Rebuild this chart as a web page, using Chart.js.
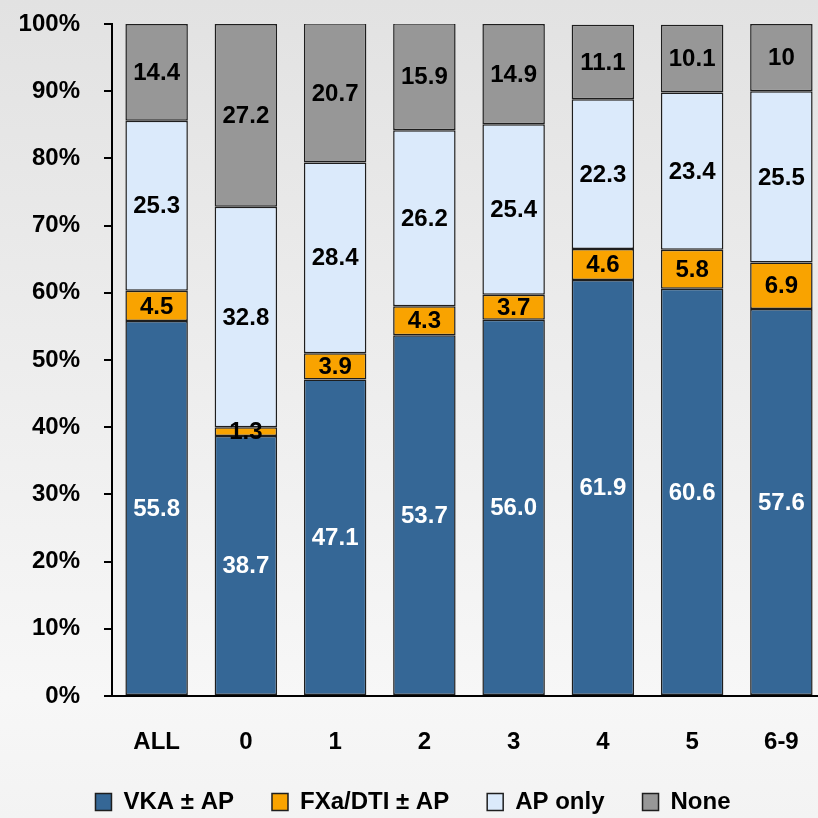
<!DOCTYPE html>
<html>
<head>
<meta charset="utf-8">
<script src="https://cdn.jsdelivr.net/npm/chart.js@4.4.0/dist/chart.umd.min.js"></script>
<style>
  html, body { margin:0; padding:0; width:818px; height:818px; overflow:hidden; background:#ececec; }
  #wrap { position:relative; width:826px; height:818px; }
</style>
</head>
<body>
<div id="wrap"><canvas id="c" width="826" height="818"></canvas></div>
<script>
const categories = ['ALL', '0', '1', '2', '3', '4', '5', '6-9'];
const vkaValues  = [55.8, 38.7, 47.1, 53.7, 56.0, 61.9, 60.6, 57.6];
const fxaValues  = [4.5, 1.3, 3.9, 4.3, 3.7, 4.6, 5.8, 6.9];
const apValues   = [25.3, 32.8, 28.4, 26.2, 25.4, 22.3, 23.4, 25.5];
const noneValues = [14.4, 27.2, 20.7, 15.9, 14.9, 11.1, 10.1, 10];
const seriesNames = ['VKA \u00B1 AP', 'FXa/DTI \u00B1 AP', 'AP only', 'None'];
const yTicks = [0, 10, 20, 30, 40, 50, 60, 70, 80, 90, 100];

const FONT = "'Liberation Sans', Arial, 'DejaVu Sans', sans-serif";

const bgPlugin = {
  id: 'bg',
  beforeDraw(chart) {
    const {ctx, width, height} = chart;
    const g = ctx.createLinearGradient(0, 0, 0, height);
    g.addColorStop(0, '#e2e2e2');
    g.addColorStop(0.85, '#f7f7f7');
    g.addColorStop(1, '#f3f3f3');
    ctx.save();
    ctx.fillStyle = g;
    ctx.fillRect(0, 0, width, height);
    ctx.restore();
  }
};

const labelPlugin = {
  id: 'segLabels',
  afterDatasetsDraw(chart) {
    const ctx = chart.ctx;
    ctx.save();
    ctx.font = "bold 24px " + FONT;
    ctx.textAlign = 'center';
    ctx.textBaseline = 'middle';
    chart.data.datasets.forEach((ds, di) => {
      const meta = chart.getDatasetMeta(di);
      meta.data.forEach((el, i) => {
        const p = el.getProps(['x', 'y', 'base'], true);
        const v = ds.data[i];
        const txt = di === 0 ? v.toFixed(1) : String(v);
        ctx.fillStyle = di === 0 ? '#ffffff' : '#000000';
        ctx.fillText(txt, p.x, (p.y + p.base) / 2 + 1);
      });
    });
    ctx.restore();
  }
};

const mk = (label, data, color) => ({
  label, data, backgroundColor: color, borderColor: '#1e1e1e', borderWidth: 1.5,
  borderSkipped: false, barPercentage: 0.7, categoryPercentage: 1.0
});

new Chart(document.getElementById('c'), {
  type: 'bar',
  data: {
    labels: categories,
    datasets: [
      mk(seriesNames[0], vkaValues, '#356796'),
      mk(seriesNames[1], fxaValues, '#f9a300'),
      mk(seriesNames[2], apValues, '#dbeafb'),
      mk(seriesNames[3], noneValues, '#979797')
    ]
  },
  options: {
    responsive: false,
    animation: false,
    layout: { padding: { top: 24, right: 0, left: 0, bottom: 0 } },
    plugins: {
      legend: {
        position: 'bottom',
        maxHeight: 66,
        labels: {
          boxWidth: 16, boxHeight: 17, padding: 38,
          color: '#000',
          font: { family: FONT, size: 24, weight: 'bold' }
        }
      },
      tooltip: { enabled: false }
    },
    scales: {
      x: {
        stacked: true,
        grid: { display: true, drawOnChartArea: false, drawTicks: false },
        border: { display: true, color: '#000', width: 2 },
        ticks: { color: '#000', font: { family: FONT, size: 24, weight: 'bold' }, padding: 32 },
        afterFit(s) { s.height = 56; s.paddingLeft = 0; s.paddingRight = 0; }
      },
      y: {
        stacked: true,
        min: 0, max: 100,
        afterBuildTicks(s) { s.ticks = yTicks.map(v => ({ value: v })); },
        grid: { display: true, drawOnChartArea: false, drawTicks: true, tickLength: 8, color: '#000', lineWidth: 2 },
        border: { display: true, color: '#000', width: 2 },
        ticks: { color: '#000', padding: 24, font: { family: FONT, size: 24, weight: 'bold' }, callback: v => v + '%' },
        afterFit(s) { s.width = 112; s.paddingTop = 0; s.paddingBottom = 0; }
      }
    }
  },
  plugins: [bgPlugin, labelPlugin]
});
</script>
</body>
</html>
